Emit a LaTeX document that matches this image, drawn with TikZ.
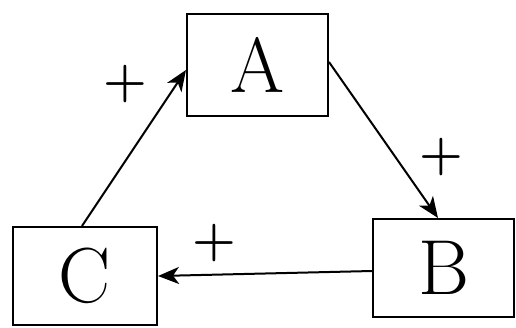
\documentclass[tikz,border=0pt]{standalone}
\usetikzlibrary{arrows.meta}
\begin{document}
\begin{tikzpicture}[x=1pt,y=-1pt,
  boxnode/.style={draw,line width=2pt,inner sep=0pt,font=\fontsize{78}{80}\selectfont},
  conn/.style={line width=2pt,-{Stealth[length=21pt,width=17pt,inset=6pt]}},
  sign/.style={font=\bfseries\fontsize{50}{56}\selectfont,inner sep=0pt}]
\useasboundingbox (0,0) rectangle (516,327);
\node[boxnode,minimum width=141pt,minimum height=102pt] (A) at (257.5,65) {A};
\node[boxnode,minimum width=141pt,minimum height=98pt] (B) at (443.5,268) {B};
\node[boxnode,minimum width=144pt,minimum height=98pt] (C) at (85,276) {C};
\draw[conn] (C.north -| 82,0) -- (A.west |- 0,70);
\draw[conn] (A.east |- 0,62) -- (B.north -| 438,0);
\draw[conn] (B.west |- 0,271) -- (C.east |- 0,276);
\node[sign] (p1) at (125,84) {+};
\node[sign] (p2) at (441,157) {+};
\node[sign] (p3) at (214,243) {+};
\end{tikzpicture}
\end{document}
